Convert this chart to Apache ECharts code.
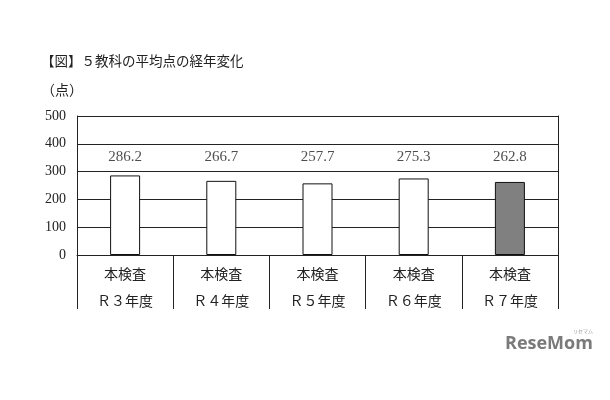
<!DOCTYPE html>
<html><head><meta charset="utf-8">
<script src="https://cdn.jsdelivr.net/npm/echarts@6/dist/echarts.min.js"></script>
<style>html,body{margin:0;padding:0;background:#fff}#c{width:610px;height:400px}</style>
</head><body><div id="c"></div>
<script>
const categoriesTop = ['本検査','本検査','本検査','本検査','本検査'];
const categoriesYear = ['Ｒ３年度','Ｒ４年度','Ｒ５年度','Ｒ６年度','Ｒ７年度'];
const scores = [286.2, 266.7, 257.7, 275.3, 262.8];
const yTicks = [0, 100, 200, 300, 400, 500];

const FONT = '"Liberation Serif", "Noto Sans CJK JP", serif';
const LABEL_LEVEL = 352;
const cats = categoriesTop.map((t, i) => t + '\n' + categoriesYear[i]);
const chart = echarts.init(document.getElementById('c'), null, {renderer: 'canvas'});
chart.setOption({
  backgroundColor: '#fff',
  animation: false,
  grid: {left: 77, right: 52, top: 116, bottom: 145},
  title: [
    {text: '【図】５教科の平均点の経年変化', left: 36, top: 51,
     textStyle: {fontSize: 13.5, fontWeight: 'normal', color: '#222', fontFamily: FONT}},
    {text: '（点）', left: 36, top: 79,
     textStyle: {fontSize: 14, fontWeight: 'normal', color: '#222', fontFamily: FONT}}
  ],
  xAxis: {
    type: 'category', data: cats,
    axisLine: {lineStyle: {color: '#222', width: 1}},
    axisTick: {show: true, length: 54, lineStyle: {color: '#222'}},
    axisLabel: {color: '#222', fontSize: 14, fontFamily: FONT, lineHeight: 27, margin: 7}
  },
  yAxis: [{
    type: 'value', min: 0, max: 500, interval: 100,
    axisLine: {show: true, lineStyle: {color: '#222'}},
    axisTick: {show: false},
    splitLine: {lineStyle: {color: '#222', width: 1}},
    axisLabel: {color: '#222', fontSize: 14, fontFamily: FONT, margin: 11,
      formatter: v => yTicks.includes(v) ? String(v) : ''}
  }, {
    type: 'value', min: 0, max: 500, interval: 100, position: 'right',
    axisLine: {show: true, lineStyle: {color: '#222'}},
    axisTick: {show: false}, axisLabel: {show: false}, splitLine: {show: false}
  }],
  series: [{
    type: 'bar', barWidth: 30,
    data: scores.map((v, i) => ({value: v, itemStyle: {color: i === scores.length - 1 ? '#808080' : '#fff'}})),
    itemStyle: {borderColor: '#111', borderWidth: 1}
  }, {
    type: 'scatter', symbolSize: 0, silent: true,
    data: scores.map(() => LABEL_LEVEL),
    label: {show: true, position: 'inside', color: '#222', fontSize: 15, fontFamily: FONT,
      formatter: p => scores[p.dataIndex].toFixed(1)}
  }],
  graphic: [
    {type: 'text', left: 505, top: 335,
     style: {text: 'ReseMom', fill: '#7a7a7a', font: 'bold 18px "Open Sans", sans-serif'}},
    {type: 'text', left: 573, top: 329,
     style: {text: 'リセマム', fill: '#999', font: '5px "Noto Sans CJK JP", sans-serif'}}
  ]
});
</script></body></html>
